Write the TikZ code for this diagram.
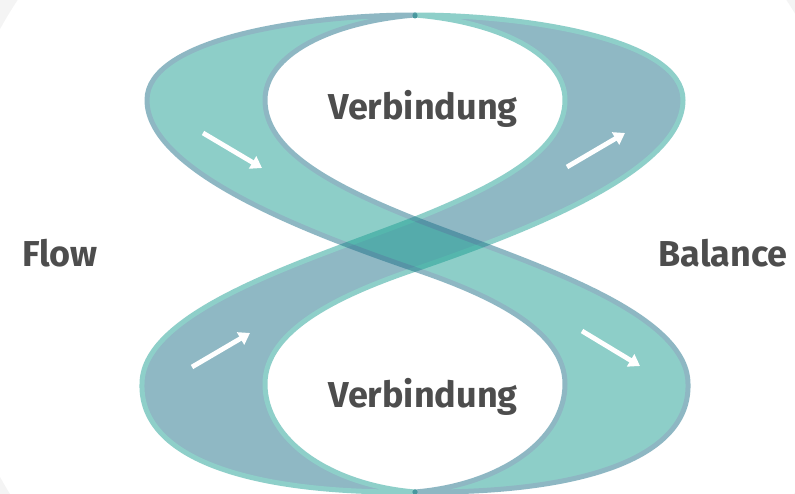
\documentclass[tikz,border=0pt]{standalone}
\usepackage{fontspec}
\setmainfont{Fira Sans}
\usetikzlibrary{arrows.meta}
\definecolor{tealA}{RGB}{142,207,201}
\definecolor{blueB}{RGB}{143,184,196}
\definecolor{tealbase}{RGB}{29,159,147}
\definecolor{bluebase}{RGB}{31,113,137}
\definecolor{txt}{RGB}{77,77,77}
\definecolor{bg}{RGB}{244,244,244}
\definecolor{dotc}{RGB}{72,152,158}
\tikzset{
  lbl/.style={text=txt, font=\fontsize{36}{36}\selectfont\bfseries, inner sep=0pt, anchor=base},
  flowarrow/.style={draw=white, line width=4.8pt, -{Triangle[length=11pt,width=14pt]}},
  bandline/.style={line width=5pt, line join=round},
}
\newcommand{\bandpath}{(415,15) .. controls (330,22) and (265,55) .. (265,100)
  .. controls (265,150) and (330,185) .. (415,219)
  .. controls (520,260) and (688,310) .. (688,384)
  .. controls (690,455) and (590,494) .. (415,492)
  .. controls (500,485) and (565,440) .. (565,384)
  .. controls (565,330) and (490,295) .. (417,270)
  .. controls (300,230) and (147,170) .. (147,100)
  .. controls (147,40) and (300,15) .. (415,15) -- cycle}
\begin{document}
\begin{tikzpicture}[x=1pt,y=-1pt]
\useasboundingbox (0,0) rectangle (795,494);
\clip (0,0) rectangle (795,494);
\fill[bg] (0,0) rectangle (795,494);
\fill[white] (402,253) circle (460pt);
% band B (mirrored), opaque
\begin{scope}[shift={(830,0)}, xscale=-1]
  \path[fill=blueB, draw=tealA, bandline] \bandpath;
\end{scope}
% band A, semi-transparent group
\begin{scope}[transparency group, opacity=0.5]
  \path[fill=tealbase, draw=bluebase, bandline] \bandpath;
\end{scope}
\fill[dotc] (415,16) circle (2.5pt);
\fill[dotc] (415,492) circle (2.5pt);
% arrows
\coordinate (a1s) at (203,133); \coordinate (a1e) at (262,168);
\coordinate (a2s) at (567,167); \coordinate (a2e) at (625,133);
\coordinate (a3s) at (192,367); \coordinate (a3e) at (250,333);
\coordinate (a4s) at (582,331); \coordinate (a4e) at (640,366);
\draw[flowarrow] (a1s) -- (a1e);
\draw[flowarrow] (a2s) -- (a2e);
\draw[flowarrow] (a3s) -- (a3e);
\draw[flowarrow] (a4s) -- (a4e);
% labels
\node[lbl] (v1) at (423,120) {Verbindung};
\node[lbl] (v2) at (423,407) {Verbindung};
\node[lbl] (flow) at (60,267) {Flow};
\node[lbl] (bal) at (723,267) {Balance};
\end{tikzpicture}
\end{document}
